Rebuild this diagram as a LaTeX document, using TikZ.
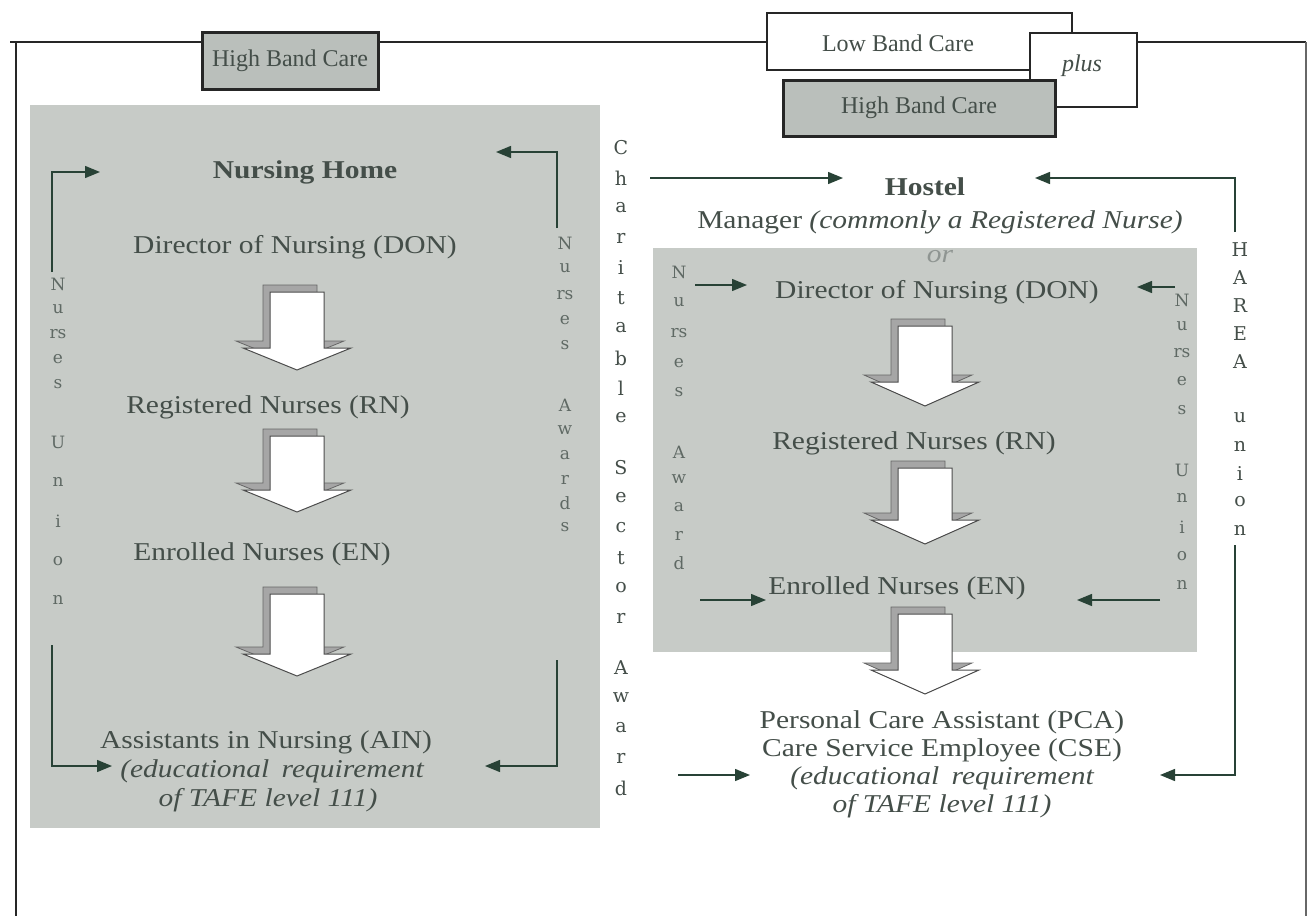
\documentclass[tikz,border=0pt]{standalone}
\usepackage{fontspec}
\usepackage{graphicx}
\setmainfont{Liberation Serif}
\newfontfamily\vfont{DejaVu Serif}
\usetikzlibrary{arrows.meta}
\definecolor{panelgray}{RGB}{199,203,199}
\definecolor{boxgray}{RGB}{186,191,187}
\definecolor{ink}{RGB}{68,78,73}
\definecolor{vink}{RGB}{95,105,100}
\definecolor{arr}{RGB}{40,66,54}
\definecolor{framec}{RGB}{38,38,38}
\newcommand\sq[1]{\scalebox{1}[0.87]{#1}}
\newcommand\blockarrow[4]{%
  \filldraw[fill=gray!70, draw=black!60, line width=0.8pt, shift={(-7,-7)}]
    ({#1-27},{#2}) -- ({#1+27},{#2}) -- ({#1+27},{#2+#3}) -- ({#1+54},{#2+#3})
    -- ({#1},{#2+#3+#4}) -- ({#1-54},{#2+#3}) -- ({#1-27},{#2+#3}) -- cycle;
  \filldraw[fill=white, draw=black!70, line width=1pt]
    ({#1-27},{#2}) -- ({#1+27},{#2}) -- ({#1+27},{#2+#3}) -- ({#1+54},{#2+#3})
    -- ({#1},{#2+#3+#4}) -- ({#1-54},{#2+#3}) -- ({#1-27},{#2+#3}) -- cycle;
}
\newcommand\vcolumn[4]{% name, x, list of y/letter, style
  \foreach \yy/\ll [count=\ii] in {#3} {
    \node[#4] (#1\ii) at (#2,\yy) {\ll};
  }
}
\begin{document}
\begin{tikzpicture}[x=1pt,y=-1pt,
  lbl/.style={font=\fontsize{29.5}{34}\selectfont, text=ink, inner sep=0pt},
  ilbl/.style={lbl, font=\itshape\fontsize{29.5}{34}\selectfont},
  boxlbl/.style={font=\fontsize{24}{28}\selectfont, text=ink, inner sep=0pt},
  vl/.style={font=\vfont\fontsize{17}{17}\selectfont, text=vink, inner sep=0pt},
  vlo/.style={font=\vfont\fontsize{19}{19}\selectfont, text=ink, inner sep=0pt},
  conn/.style={draw=arr, line width=1.4pt, -{Triangle[length=15pt,width=12pt]}},
]
\useasboundingbox (0,0) rectangle (1310,916);
\fill[white] (0,0) rectangle (1310,916);

% frame
\draw[framec, line width=2.6pt] (10,42) -- (1306,42);
\draw[framec, line width=2.6pt] (16,41) -- (16,916);
\draw[framec!70, line width=1.3pt] (1306,42) -- (1306,916);

% panels
\fill[panelgray] (30,105) rectangle (600,828);
\fill[panelgray] (653,248) rectangle (1197,652);

% top boxes
\node[draw=framec, line width=3pt, fill=boxgray, minimum width=176pt, minimum height=57pt, boxlbl] (hbl) at (290,60.5) {High Band Care};
\node[draw=framec, line width=2pt, fill=white, minimum width=305pt, minimum height=57pt] (lowbox) at (919.5,41.5) {};
\node[boxlbl] (low) at (898,43) {Low Band Care};
\node[draw=framec, line width=2pt, fill=white, minimum width=107pt, minimum height=74pt] (plusbox) at (1083.5,70) {};
\node[boxlbl, font=\itshape\fontsize{24}{28}\selectfont] (plus) at (1082,66) {plus};
\node[draw=framec, line width=3pt, fill=boxgray, minimum width=272pt, minimum height=56pt, boxlbl] (hbr) at (919,108) {High Band Care};

% left panel texts
\node[lbl, font=\bfseries\fontsize{29.5}{34}\selectfont] (nh) at (305,172) {\sq{Nursing Home}};
\node[lbl] (ldon) at (295,247) {\sq{Director of Nursing (DON)}};
\blockarrow{297}{292}{56}{22}
\node[lbl] (lrn) at (268,407) {\sq{Registered Nurses (RN)}};
\blockarrow{297}{436}{54}{22}
\node[lbl] (len) at (262,554) {\sq{Enrolled Nurses (EN)}};
\blockarrow{297}{594}{60}{22}
\node[lbl] (lain) at (266,742) {\sq{Assistants in Nursing (AIN)}};
\node[ilbl] (ledu) at (272,771) {\sq{(educational\, requirement}};
\node[ilbl] (ltafe) at (268,800) {\sq{of TAFE level 111)}};

% right texts
\node[lbl, font=\bfseries\fontsize{29.5}{34}\selectfont] (hostel) at (925,187) {\sq{Hostel}};
\node[lbl] (mgr) at (940,222) {\sq{Manager \textit{(commonly a Registered Nurse)}}};
\node[ilbl, text=ink!60] (or) at (940,257) {\sq{or}};
\node[lbl] (rdon) at (937,292) {\sq{Director of Nursing (DON)}};
\blockarrow{925}{326}{56}{24}
\node[lbl] (rrn) at (914,443) {\sq{Registered Nurses (RN)}};
\blockarrow{925}{468}{52}{24}
\node[lbl] (ren) at (897,588) {\sq{Enrolled Nurses (EN)}};
\blockarrow{925}{614}{56}{24}
\node[lbl] (pca) at (942,722) {\sq{Personal Care Assistant (PCA)}};
\node[lbl] (cse) at (942,750) {\sq{Care Service Employee (CSE)}};
\node[ilbl] (redu) at (942,778) {\sq{(educational\, requirement}};
\node[ilbl] (rtafe) at (942,806) {\sq{of TAFE level 111)}};

% vertical texts
\vcolumn{nul}{58}{284/N,309/u,334/rs,359/e,384/s,442/U,482/n,521/i,561/o,600/n}{vl}
\vcolumn{naw}{565}{243/N,268/u,295/rs,320/e,345/s,405/A,430/w,455/a,480/r,503/d,527/s}{vl}
\vcolumn{csa}{621}{148/C,178/h,208/a,238/r,268/i,298/t,328/a,358/b,388/l,418/e,468/S,498/e,528/c,558/t,588/o,618/r,668/A,698/w,728/a,758/r,788/d}{vlo}
\vcolumn{nar}{679}{272/N,302/u,333/rs,363/e,392/s,452/A,479/w,507/a,536/r,563/d}{vl}
\vcolumn{nur}{1182}{300/N,326/u,353/rs,381/e,410/s,470/U,498/n,527/i,556/o,585/n}{vl}
\vcolumn{har}{1240}{250/H,278/A,306/R,334/E,362/A,418/u,446/n,474/i,502/o,530/n}{vlo}

% connector coordinates
\coordinate (l1s) at (52,272);   \coordinate (l1e) at (100,172);
\coordinate (l2s) at (52,645);   \coordinate (l2e) at (112,766);
\coordinate (l3s) at (557,228);  \coordinate (l3e) at (496,152);
\coordinate (l4s) at (557,660);  \coordinate (l4e) at (485,766);
\coordinate (c1s) at (650,178);  \coordinate (c1e) at (843,178);
\coordinate (h1s) at (1235,232); \coordinate (h1e) at (1035,178);
\coordinate (d1s) at (695,285);  \coordinate (d1e) at (747,285);
\coordinate (d2s) at (1175,287); \coordinate (d2e) at (1137,287);
\coordinate (e1s) at (700,600);  \coordinate (e1e) at (766,600);
\coordinate (e2s) at (1160,600); \coordinate (e2e) at (1077,600);
\coordinate (b1s) at (678,775);  \coordinate (b1e) at (750,775);
\coordinate (h2s) at (1235,545); \coordinate (h2e) at (1160,775);

\draw[conn] (l1s) |- (l1e);
\draw[conn] (l2s) |- (l2e);
\draw[conn] (l3s) |- (l3e);
\draw[conn] (l4s) |- (l4e);
\draw[conn] (c1s) -- (c1e);
\draw[conn] (h1s) |- (h1e);
\draw[conn] (d1s) -- (d1e);
\draw[conn] (d2s) -- (d2e);
\draw[conn] (e1s) -- (e1e);
\draw[conn] (e2s) -- (e2e);
\draw[conn] (b1s) -- (b1e);
\draw[conn] (h2s) |- (h2e);
\end{tikzpicture}
\end{document}
